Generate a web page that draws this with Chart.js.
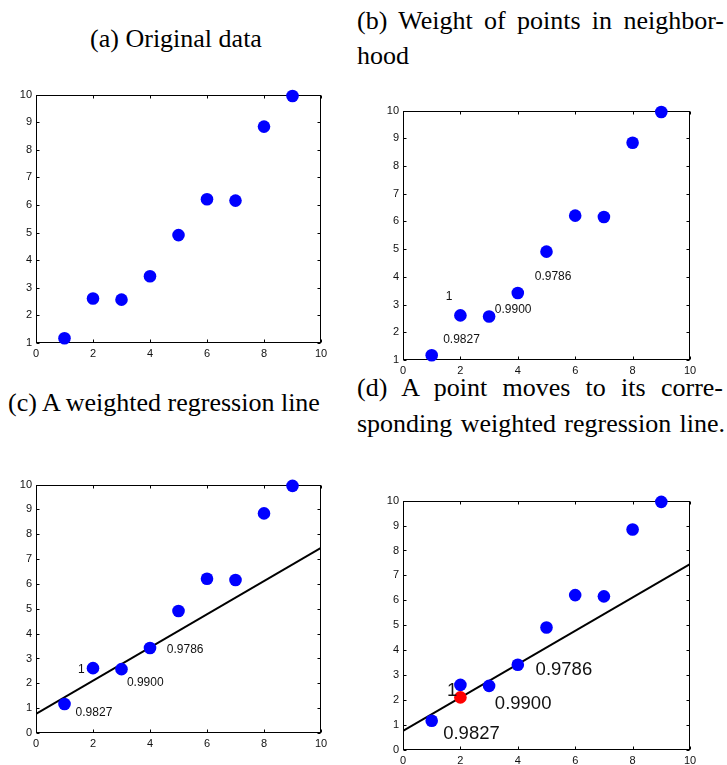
<!DOCTYPE html>
<html>
<head>
<title>Weighted regression panels</title>
<script src="https://cdn.jsdelivr.net/npm/chart.js@4"></script>
<style>
  body { margin: 0; width: 727px; height: 765px; position: relative; background: #fff; overflow: hidden; }
  .cap { position: absolute; font-family: "Liberation Serif", "Times New Roman", serif; font-size: 26px; line-height: 36px; color: #000; white-space: nowrap; }
  .just { text-align: justify; text-align-last: justify; white-space: normal; }
  canvas { position: absolute; }
</style>
</head>
<body>
<div class="cap" style="left:0; top:21px; width:352px; text-align:center;">(a) Original data</div>
<div class="cap just" style="left:357px; top:3px; width:367px;">(b) Weight of points in neighbor-</div>
<div class="cap" style="left:357px; top:38px;">hood</div>
<div class="cap" style="left:8px; top:385px;">(c) A weighted regression line</div>
<div class="cap just" style="left:357px; top:370px; width:366px;">(d) A point moves to its corre-</div>
<div class="cap just" style="left:357px; top:406px; width:368px;">sponding weighted regression line.</div>

<canvas id="panelA" width="345" height="280" style="left:0; top:84px;"></canvas>
<canvas id="panelB" width="367" height="282" style="left:360px; top:100px;"></canvas>
<canvas id="panelC" width="345" height="280" style="left:0; top:474px;"></canvas>
<canvas id="panelD" width="367" height="275" style="left:360px; top:490px;"></canvas>

<script>
// data points
const xVals = [1, 2, 3, 4, 5, 6, 7, 8, 9];
const yVals = [1.17, 2.61, 2.57, 3.42, 4.91, 6.21, 6.16, 8.84, 9.95];

// weighted regression line end points
const lineX = [0, 10];
const lineY = [0.77, 7.45];

// the point that moved onto the line
const movedX = [2];
const movedY = [2.11];

// weights written next to the neighbours
const weightText = ['0.9827', '1', '0.9900', '0.9786'];

// where each weight is written (data units, left edge / middle of text)
const labelXB = [1.40, 1.49, 3.20, 4.59];
const labelYB = [1.72, 3.30, 2.80, 4.02];
const labelXC = [1.39, 1.47, 3.19, 4.59];
const labelYC = [0.80, 2.54, 2.03, 3.34];
const labelXD = [1.40, 1.53, 3.20, 4.62];
const labelYD = [0.64, 2.37, 1.84, 3.22];

const pts = (xs, ys) => xs.map((x, i) => ({ x: x, y: ys[i] }));

// box round the plot area plus short inward tick marks, matlab style
const frameBox = {
    id: 'frameBox',
    beforeDatasetsDraw(chart) {
        const ctx = chart.ctx;
        const a = chart.chartArea;
        const xs = chart.scales.x, ys = chart.scales.y;
        const L = Math.round(a.left) + 0.5, R = Math.round(a.right) - 0.5;
        const T = Math.round(a.top) + 0.5, B = Math.round(a.bottom) - 0.5;
        ctx.save();
        ctx.strokeStyle = '#000';
        ctx.lineWidth = 1;
        ctx.strokeRect(L, T, R - L, B - T);
        ctx.beginPath();
        xs.ticks.forEach(t => {
            const px = Math.round(xs.getPixelForValue(t.value)) + 0.5;
            ctx.moveTo(px, B); ctx.lineTo(px, B - 3);
            ctx.moveTo(px, T); ctx.lineTo(px, T + 3);
        });
        ys.ticks.forEach(t => {
            const py = Math.round(ys.getPixelForValue(t.value)) + 0.5;
            ctx.moveTo(L, py); ctx.lineTo(L + 3, py);
            ctx.moveTo(R, py); ctx.lineTo(R - 3, py);
        });
        ctx.stroke();
        ctx.restore();
    }
};

// weight numbers
const weightLabels = {
    id: 'weightLabels',
    afterDatasetsDraw(chart, args, opts) {
        if (!opts.xs) return;
        const ctx = chart.ctx;
        ctx.save();
        ctx.fillStyle = '#111';
        ctx.font = opts.size + 'px "Liberation Sans", Arial, sans-serif';
        ctx.textAlign = 'left';
        ctx.textBaseline = 'middle';
        weightText.forEach((txt, i) => {
            ctx.fillText(txt, chart.scales.x.getPixelForValue(opts.xs[i]), chart.scales.y.getPixelForValue(opts.ys[i]));
        });
        ctx.restore();
    }
};

function makePanel(id, datasets, yMin, yWidth, xHeight, pad, labels) {
    new Chart(document.getElementById(id).getContext('2d'), {
        type: 'scatter',
        data: { datasets: datasets },
        options: {
            responsive: false,
            animation: false,
            devicePixelRatio: 1,
            layout: { padding: pad },
            plugins: {
                legend: { display: false },
                tooltip: { enabled: false },
                weightLabels: labels || {}
            },
            scales: {
                x: {
                    type: 'linear', min: 0, max: 10,
                    grid: { display: false, drawTicks: false },
                    border: { display: false },
                    ticks: { stepSize: 2, padding: 4, color: '#111', font: { family: '"Liberation Sans", Arial', size: 11 } },
                    afterFit(s) { s.height = xHeight; }
                },
                y: {
                    type: 'linear', min: yMin, max: 10,
                    grid: { display: false, drawTicks: false },
                    border: { display: false },
                    ticks: { stepSize: 1, padding: 4, color: '#111', font: { family: '"Liberation Sans", Arial', size: 11 } },
                    afterFit(s) { s.width = yWidth; }
                }
            }
        },
        plugins: [frameBox, weightLabels]
    });
}

const bluePts = () => ({ data: pts(xVals, yVals), clip: false, pointRadius: 6.3, pointHoverRadius: 6.3, pointBackgroundColor: '#0000ff', pointBorderWidth: 0 });
const fitLine = () => ({ type: 'line', data: pts(lineX, lineY), showLine: true, borderColor: '#000', borderWidth: 2, pointRadius: 0, fill: false });

makePanel('panelA', [bluePts()], 1, 36, 21, { left: 0, right: 24, top: 10, bottom: 0 });
makePanel('panelB', [bluePts()], 1, 43, 22, { left: 0, right: 37, top: 10, bottom: 0 },
    { xs: labelXB, ys: labelYB, size: 12 });
makePanel('panelC', [bluePts(), fitLine()], 0, 36, 21, { left: 0, right: 24, top: 10, bottom: 0 },
    { xs: labelXC, ys: labelYC, size: 12 });
makePanel('panelD', [
    { data: pts(movedX, movedY), clip: false, pointRadius: 6.3, pointHoverRadius: 6.3, pointBackgroundColor: '#ff0000', pointBorderWidth: 0 },
    bluePts(), fitLine()], 0, 43, 15, { left: 0, right: 37, top: 10, bottom: 0 },
    { xs: labelXD, ys: labelYD, size: 18.5 });
</script>
</body>
</html>
